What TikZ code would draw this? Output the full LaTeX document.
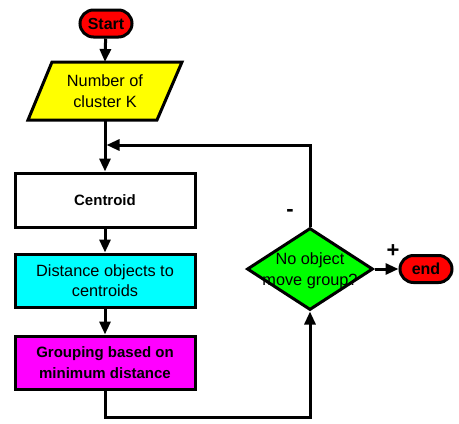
\documentclass[tikz,border=0pt]{standalone}
\usepackage{fontspec}
\setmainfont{Liberation Sans}
\usetikzlibrary{shapes.geometric,arrows.meta}
\definecolor{cRed}{RGB}{255,0,0}
\definecolor{cYellow}{RGB}{255,255,0}
\definecolor{cCyan}{RGB}{0,255,255}
\definecolor{cMagenta}{RGB}{255,0,255}
\definecolor{cGreen}{RGB}{0,255,0}
\begin{document}
\begin{tikzpicture}[x=1pt,y=-1pt,
  line width=3pt,
  every node/.style={font=\fontsize{16.3}{20.5}\selectfont, align=center},
  boldtext/.style={font=\fontsize{15}{20.5}\selectfont\bfseries},
  term/.style={draw, fill=cRed, rounded corners=13.5pt, minimum width=52pt, minimum height=27pt, inner sep=0pt, font=\fontsize{16}{20}\selectfont\bfseries},
  procbox/.style={draw, minimum width=180pt, minimum height=54pt, inner sep=0pt},
  decbox/.style={draw, diamond, fill=cGreen, minimum width=126pt, minimum height=82pt, inner sep=0pt},
  flow/.style={-{Triangle[length=13pt,width=11pt]}},
  sign/.style={font=\fontsize{22}{24}\selectfont\bfseries}
]
\useasboundingbox (0,0) rectangle (459,424);
% start
\node[term] (start) at (106,23.5) {Start};
% parallelogram input
\coordinate (numtop) at (105,62);
\coordinate (numbot) at (105,120);
\draw[fill=cYellow] (52,62) -- (182,62) -- (157,120) -- (28,120) -- cycle;
\node (num) at (105,91) {Number of\\cluster K};
% process boxes
\node[procbox, fill=white, boldtext] (cent) at (105,200) {Centroid};
\node[procbox, fill=cCyan, minimum height=53pt] (dist) at (105,280.5) {Distance objects to\\centroids};
\node[procbox, fill=cMagenta, minimum height=53pt, boldtext] (group) at (105,362.5) {Grouping based on\\minimum distance};
% decision
\node[decbox] (dec) at (310,269) {};
\node (dectext) at (310,271) {No object\\move group?};
% end
\node[term] (end) at (426,269) {end};
% coordinates
\coordinate (merge) at (106.5,145);
\coordinate (bl) at (105,417);
% connectors
\draw[flow] (start) -- (numtop);
\draw[flow] (numbot) -- (cent.north);
\draw[flow] (cent) -- (dist);
\draw[flow] (dist) -- (group);
\draw[flow] (group.south) -- (bl) -| (dec.south);
\draw[flow] (dec.north) |- (merge);
\draw[flow] (dec.east) -- (end.west);
% labels
\node[sign] (minus) at (290,213) {-};
\node[sign] (plus) at (393,251) {+};
\end{tikzpicture}
\end{document}
